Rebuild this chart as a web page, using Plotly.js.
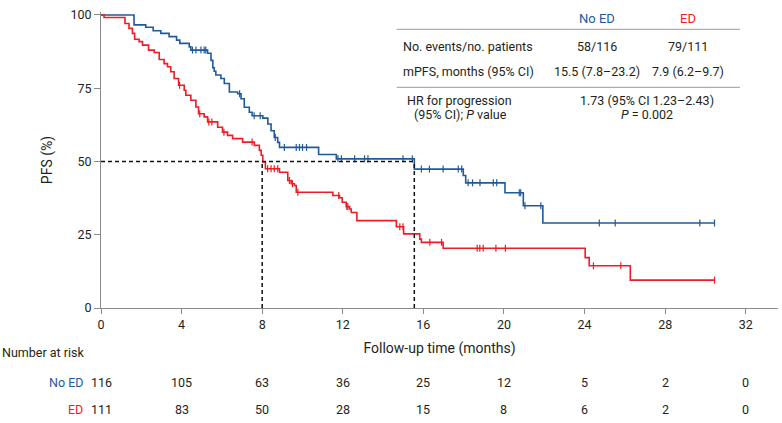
<!DOCTYPE html>
<html><head><meta charset="utf-8">
<script src="https://cdn.plot.ly/plotly-3.0.1.min.js"></script>
<style>html,body{margin:0;padding:0;background:#fff}</style>
</head><body><div id="chart" style="width:782px;height:423px"></div>
<script>
// ---- data ----
const noEdTimes = [0,1.64,2.22,2.59,2.97,3.38,3.75,3.91,4.38,4.46,5.29,5.46,5.55,5.62,5.7,5.95,6.12,6.37,6.78,6.95,7.11,7.36,7.5,8.03,8.28,8.44,8.6,8.77,8.86,10.8,11.68,15.55,17.98,18.1,20.05,20.96,21.93,30.45];
const noEdSurv  = [100,96.6,95.8,94.6,93.7,92.6,91.4,90.3,89.1,88.0,86.9,84.5,82.0,80.8,79.5,78.3,76.6,73.7,73.1,71.4,68.5,66.8,65.6,64.8,62.8,60.5,58.2,56.5,54.8,52.4,50.9,47.4,45.2,42.7,39.3,34.9,29.0,29.0];
const edTimes = [0,0.15,1.19,1.39,1.56,1.67,1.89,2.06,2.36,2.64,2.89,3.13,3.3,3.46,3.63,3.85,4.13,4.21,4.46,4.71,4.84,5.12,5.29,5.79,6.03,6.28,6.53,7.03,7.61,7.86,7.95,8.03,8.16,8.86,9.27,9.44,9.6,9.69,11.51,11.84,11.97,12.17,12.34,12.42,12.7,14.66,15.02,15.82,15.9,16.98,24.03,24.23,26.27,30.45];
const edSurv  = [100,99.1,97.1,95.4,93.7,91.7,90.9,89.7,88.0,87.2,84.8,83.4,82.3,80.6,78.3,76.0,74.3,72.6,70.9,68.6,66.3,65.2,63.5,61.7,60.0,58.9,57.8,56.6,55.5,53.8,52.1,49.8,47.5,46.3,43.5,42.4,41.8,39.5,38.4,37.6,36.1,34.6,33.8,32.6,29.8,27.7,25.3,23.5,22.4,20.4,17.2,14.4,9.5,9.5];
const noEdCensorTimes = [4.54,4.71,4.96,5.12,5.2,6.88,7.6,7.9,8.65,9.1,9.69,9.85,10.0,10.2,11.76,11.93,12.59,13.08,13.25,14.99,15.45,15.9,16.3,16.98,17.73,17.9,18.22,18.44,18.81,19.47,19.64,20.76,20.83,21.04,21.83,24.73,25.52,29.72,30.45];
const edCensorTimes = [3.9,4.9,5.35,5.5,6.1,7.5,8.27,8.44,8.6,8.77,9.35,9.5,9.77,11.8,12.2,12.25,14.83,14.99,16.32,16.9,18.67,18.8,18.97,19.6,20.07,24.44,25.8,30.45];
const groupNames = ['No ED','ED'];
const medianX = [15.55, 8.0];
const medianLevel = 50;
const riskTimes = [0,4,8,12,16,20,24,28,32];
const riskNoEd = [116,105,63,36,25,12,5,2,0];
const riskEd = [111,83,50,28,15,8,6,2,0];
const xTicks = [0,4,8,12,16,20,24,28,32];
const yTicks = [0,25,50,75,100];
const tableEvents = ['58/116','79/111'];
const tableMpfs = ['15.5 (7.8–23.2)','7.9 (6.2–9.7)'];
const tableHr = ['1.73 (95% CI 1.23–2.43)','<i>P</i> = 0.002'];

// ---- styling ----
const BLUE = '#1f5a9c';
const RED = '#ee1c25';
const TXT = '#231f20';
const AX = '#8a8a8a';
const FONT = 'Roboto, sans-serif';

function stepAt(times, surv, t){
  let v = surv[0];
  for (let i=0;i<times.length;i++){ if (times[i] <= t) v = surv[i]; }
  return v;
}

const traces = [
  {x: noEdTimes, y: noEdSurv, mode:'lines', line:{shape:'hv', color:BLUE, width:1.6}, showlegend:false, hoverinfo:'skip'},
  {x: edTimes, y: edSurv, mode:'lines', line:{shape:'hv', color:RED, width:1.6}, showlegend:false, hoverinfo:'skip'},
  {x: noEdCensorTimes, y: noEdCensorTimes.map(t=>stepAt(noEdTimes,noEdSurv,t)), mode:'markers',
   marker:{symbol:'line-ns-open', size:5, color:BLUE, line:{color:BLUE, width:1.2}}, showlegend:false, cliponaxis:false},
  {x: edCensorTimes, y: edCensorTimes.map(t=>stepAt(edTimes,edSurv,t)), mode:'markers',
   marker:{symbol:'line-ns-open', size:5, color:RED, line:{color:RED, width:1.2}}, showlegend:false, cliponaxis:false}
];

// plot-area geometry for pixel-based placement of the table
const L = 101, R = 4, T = 12, B = 115, Wd = 782, Ht = 423;
const pw = Wd - L - R, ph = Ht - T - B;
const px = p => (p - L) / pw;
const py = p => (Ht - B - p) / ph;

const ann = [];
function a(text, xpx, ypx, opts){
  ann.push(Object.assign({text, x:px(xpx), y:py(ypx), xref:'paper', yref:'paper', showarrow:false,
    xanchor:'center', yanchor:'middle', font:{family:FONT, size:12.5, color:TXT}}, opts||{}));
}
// table
a(groupNames[0], 596.7, 18.5, {font:{family:FONT, size:13, color:BLUE}});
a(groupNames[1], 688.3, 18.5, {font:{family:FONT, size:13, color:RED}});
a('No. events/no. patients', 400.5, 46.7, {xanchor:'left'});
a(tableEvents[0], 596.7, 46.7);
a(tableEvents[1], 688.3, 46.7);
a('mPFS, months (95% CI)', 400.5, 71.7, {xanchor:'left'});
a(tableMpfs[0], 596.7, 71.7);
a(tableMpfs[1], 688.3, 71.7);
a('HR for progression', 459, 100.5);
a('(95% CI); <i>P</i> value', 460, 114.5);
a(tableHr[0], 646.7, 100.5);
a(tableHr[1], 646.7, 114.5);
// risk table
a('Number at risk', 0, 352.5, {xanchor:'left'});
a(groupNames[0], 84.5, 382.5, {xanchor:'right', font:{family:FONT, size:12.5, color:BLUE}});
a(groupNames[1], 84.5, 409, {xanchor:'right', font:{family:FONT, size:12.5, color:RED}});
riskTimes.forEach((t,i)=>{
  ann.push({text:String(riskNoEd[i]), x:t, xref:'x', y:py(382.5), yref:'paper', showarrow:false, xanchor:'center', yanchor:'middle', font:{family:FONT,size:12.5,color:TXT}});
  ann.push({text:String(riskEd[i]), x:t, xref:'x', y:py(409), yref:'paper', showarrow:false, xanchor:'center', yanchor:'middle', font:{family:FONT,size:12.5,color:TXT}});
});

const shapes = [
  {type:'line', xref:'paper', yref:'paper', x0:px(396.7), x1:px(740), y0:py(29.3), y1:py(29.3), line:{color:'#9a9a9a', width:1}},
  {type:'line', xref:'paper', yref:'paper', x0:px(396.7), x1:px(740), y0:py(87.3), y1:py(87.3), line:{color:'#9a9a9a', width:1}},
  {type:'line', xref:'x', yref:'y', x0:0, x1:Math.max(...medianX), y0:medianLevel, y1:medianLevel, line:{color:'#111', width:1.5, dash:'4px,3px'}},
  {type:'line', xref:'x', yref:'y', x0:medianX[0], x1:medianX[0], y0:0, y1:medianLevel, line:{color:'#111', width:1.5, dash:'4px,3px'}},
  {type:'line', xref:'x', yref:'y', x0:medianX[1], x1:medianX[1], y0:0, y1:medianLevel, line:{color:'#111', width:1.5, dash:'4px,3px'}}
];

const layout = {
  width: Wd, height: Ht,
  margin:{l:L, r:R, t:T, b:B, pad:0},
  paper_bgcolor:'#fff', plot_bgcolor:'#fff',
  font:{family:FONT, color:TXT, size:12.5},
  showlegend:false,
  xaxis:{range:[0,33.6], tickvals:xTicks, ticktext:xTicks.map(String), ticks:'outside', ticklen:5, tickwidth:1, tickcolor:AX,
    showline:true, linecolor:AX, linewidth:1, showgrid:false, zeroline:false, fixedrange:true,
    tickfont:{family:FONT, size:12.5, color:TXT},
    title:{text:'Follow-up time (months)', font:{family:FONT, size:14, color:TXT}, standoff:12}},
  yaxis:{range:[0,101], tickvals:yTicks, ticktext:yTicks.map(String), ticks:'outside', ticklen:6, tickwidth:1, tickcolor:AX,
    showline:true, linecolor:AX, linewidth:1, showgrid:false, zeroline:false, fixedrange:true,
    tickfont:{family:FONT, size:12.5, color:TXT},
    title:{text:'PFS (%)', font:{family:FONT, size:14, color:TXT}, standoff:14}},
  shapes, annotations: ann
};
Plotly.newPlot('chart', traces, layout, {staticPlot:true, displayModeBar:false});
</script></body></html>
